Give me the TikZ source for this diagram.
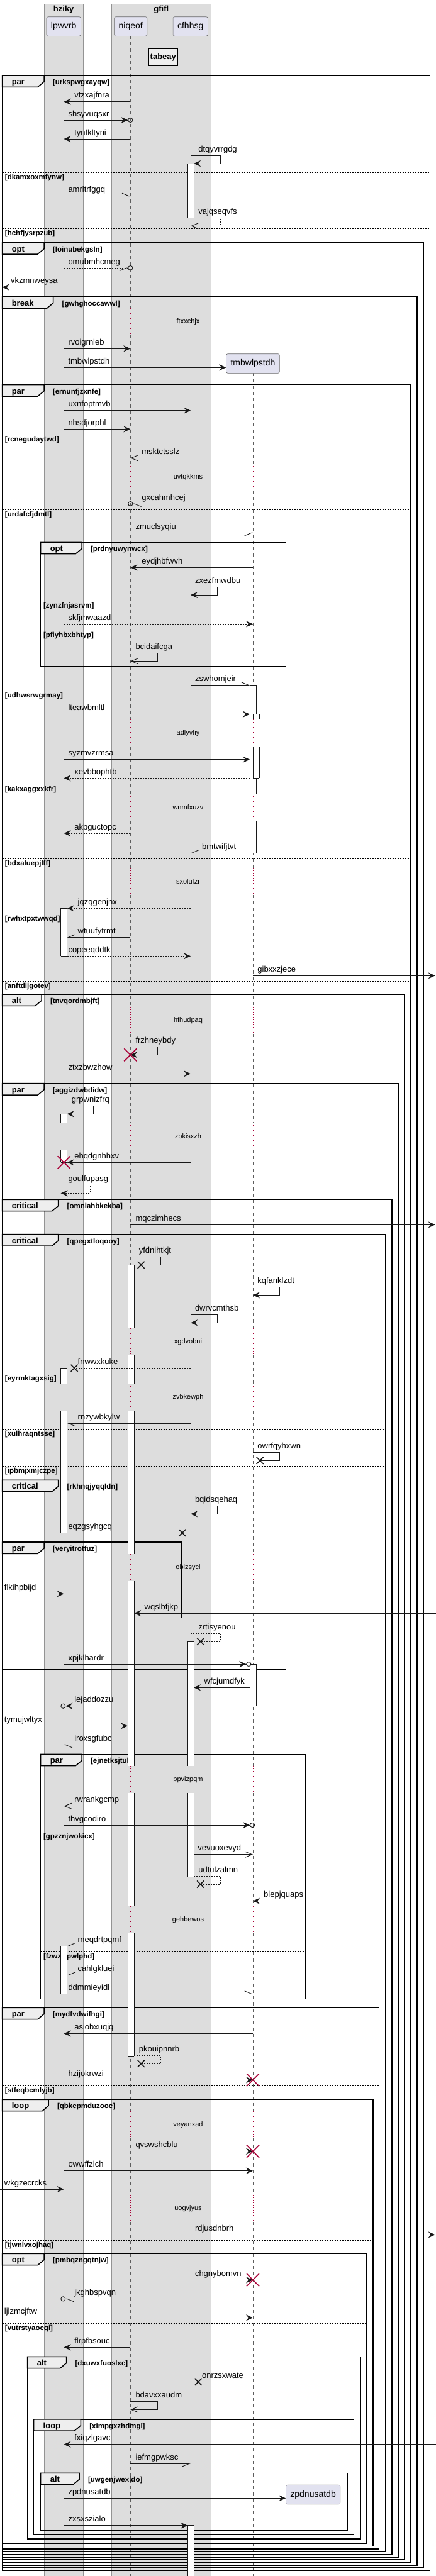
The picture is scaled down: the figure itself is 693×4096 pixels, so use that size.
\documentclass[tikz,border=0pt]{standalone}
\usepackage{fontspec}
\setmainfont{Liberation Sans}
\usetikzlibrary{arrows.meta}

\definecolor{PartFill}{HTML}{E2E2F0}
\definecolor{BoxFill}{HTML}{DDDDDD}
\definecolor{TabFill}{HTML}{EEEEEE}
\definecolor{DelayRed}{HTML}{A80036}
\definecolor{InkGray}{HTML}{181818}

% lifeline positions
\newcommand{\xL}{101.6} % lpwvrb
\newcommand{\xN}{207.3} % niqeof
\newcommand{\xC}{303.1} % cfhhsg
\newcommand{\xT}{402.0} % tmbwlpstdh
\newcommand{\xZ}{497.6} % zpdnusatdb

\tikzset{
  grayband/.style={fill=BoxFill, draw=gray!85, line width=0.6pt},
  bandtitle/.style={inner sep=0pt, font=\fontsize{13}{15}\selectfont\bfseries},
  partbox/.style={draw=InkGray!65, fill=PartFill, line width=0.6pt, rounded corners=2.5pt,
    minimum height=30.6pt, inner xsep=7pt, inner ysep=0pt, font=\fontsize{14}{16}\selectfont},
  lifeline/.style={draw=InkGray!70, line width=0.6pt, dash pattern=on 5pt off 5pt},
  delayline/.style={draw=DelayRed, line width=0.7pt, dash pattern=on 1pt off 3pt},
  delaylbl/.style={inner sep=0pt, font=\fontsize{11}{13}\selectfont},
  grpline/.style={draw=black, line width=1.5pt},
  elseline/.style={draw=black, line width=0.8pt, dash pattern=on 2pt off 2pt},
  kindlbl/.style={anchor=base west, inner sep=0pt, font=\fontsize{13}{15}\selectfont\bfseries},
  guardlbl/.style={anchor=base west, inner sep=0pt, font=\fontsize{11.5}{13}\selectfont\bfseries},
  barline/.style={draw=InkGray, line width=0.8pt},
  msgline/.style={draw=InkGray, line width=0.9pt},
  msglbl/.style={anchor=base west, inner sep=0pt, font=\fontsize{13}{15}\selectfont},
  rtn/.style={dash pattern=on 2pt off 2pt},
  sync/.style={-{Stealth[length=11pt,width=10pt,inset=4pt]}},
  syncdot/.style={-{Stealth[length=11pt,width=10pt,inset=4pt] Circle[open,length=8pt,width=8pt]}},
  opn/.style={-{Straight Barb[length=11pt,width=9pt]}},
  hl/.style={-{Straight Barb[left,length=11pt,width=9pt]}},
  hr/.style={-{Straight Barb[right,length=11pt,width=9pt]}},
  hldot/.style={-{Straight Barb[left,length=11pt,width=9pt] Circle[open,length=8pt,width=8pt]}},
  hrdot/.style={-{Straight Barb[right,length=11pt,width=9pt] Circle[open,length=8pt,width=8pt]}},
  lostmark/.style={draw=InkGray, line width=1.5pt},
  killmark/.style={draw=DelayRed, line width=1.6pt},
}

% message: [style]{name}{x from}{x to}{y}{label x}
\newcommand{\msg}[6][]{%
  \coordinate (#2-s) at (#3,#5);
  \coordinate (#2-e) at (#4,#5);
  \draw[msgline,#1] (#2-s) -- (#2-e);
  \node[msglbl] (#2) at (#6,#5-6) {#2};}
% self message: [style]{name}{x start}{x loop}{y1}{y2}{x end}{label x}
\newcommand{\selfmsg}[8][]{%
  \coordinate (#2-s) at (#3,#5);
  \coordinate (#2-c) at (#4,#6);
  \coordinate (#2-e) at (#7,#6);
  \draw[msgline,#1] (#2-s) -| (#2-c) -- (#2-e);
  \node[msglbl] (#2) at (#8,#5-6) {#2};}
\newcommand{\lostx}[1]{\draw[lostmark] #1 ++(-5.5,-5.5) -- ++(11,11) #1 ++(-5.5,5.5) -- ++(11,-11);}
\newcommand{\killx}[1]{\draw[killmark] #1 ++(-10,-10) -- ++(20,20) #1 ++(-10,10) -- ++(20,-20);}
% group frame: {name}{left}{top}{right}{bottom}{tab right}{kind}{guard}
\newcommand{\grp}[8]{%
  \draw[grpline] (#2,#3) rectangle (#4,#5);
  \draw[grpline, fill=TabFill] (#2,#3) -- (#6,#3) -- (#6,#3+10) -- (#6-10,#3+18.3) -- (#2,#3+18.3) -- cycle;
  \node[kindlbl] (#1-k) at (#2+15,#3+14.5) {#7};
  \node[guardlbl] (#1-g) at (#6+13.8,#3+14.5) {[#8]};}
% else divider: {name}{left}{right}{y}{guard}
\newcommand{\els}[5]{%
  \draw[elseline] (#2,#4) -- (#3,#4);
  \node[guardlbl] (#1) at (#2+4.2,#4+11.5) {[#5]};}
% activation bars
\newcommand{\barside}[3]{%
  \fill[white] (#1-5,#2) rectangle (#1+5,#3);
  \draw[barline] (#1-5,#2) -- (#1-5,#3) (#1+5,#2) -- (#1+5,#3);}
\newcommand{\barcap}[2]{\draw[barline] (#1-5,#2) -- (#1+5,#2);}
\newcommand{\barbox}[3]{\barside{#1}{#2}{#3}\barcap{#1}{#2}\barcap{#1}{#3}}
\newcommand{\dly}[2]{\node[delaylbl] (d-#1) at (299,#2) {#1};}

\begin{document}
\begin{tikzpicture}[x=1pt, y=-1pt]
\useasboundingbox[fill=white] (0,0) rectangle (693,4096);

% boxes
\draw[grayband] (70.0,6) rectangle (132.4,4100);
\draw[grayband] (176.9,6) rectangle (335.2,4100);
\node[bandtitle] (b-hziky) at (101.2,15) {hziky};
\node[bandtitle] (b-gfifl) at (256.3,15) {gfifl};

% lifelines with delays
\foreach \m [remember=\m as \pm (initially 35.8)] in {511.7,758.3,1165.7,1283.3,1401.7,1622.3,1806.7,2133.3,2221.7,2492.3,2829.3,3052.3,3378.3,3511.7} {
  \foreach \lx in {\xL,\xN,\xC} {
    \draw[lifeline] (\lx,\pm+21.5) -- (\lx,\m-21.5);
    \draw[delayline] (\lx,\m-21.5) -- (\lx,\m+21.5);
  }
}
\foreach \m [remember=\m as \pm (initially 571.8)] in {758.3,1165.7,1283.3,1401.7,1622.3,1806.7,2133.3,2221.7,2492.3,2829.3,3052.3,3378.3,3511.7} {
  \draw[lifeline] (\xT,\pm+21.5) -- (\xT,\m-21.5);
  \draw[delayline] (\xT,\m-21.5) -- (\xT,\m+21.5);
}
\foreach \lx in {\xL,\xN,\xC,\xT}
  \draw[lifeline] (\lx,3533.2) -- (\lx,4100);
\draw[lifeline] (\xZ,3982.3) -- (\xZ,4100);

\dly{ftxxchjx}{511.7}
\dly{uvtqkkms}{758.3}
\dly{adlyvfiy}{1165.7}
\dly{wnmfxuzv}{1283.3}
\dly{sxolufzr}{1401.7}
\dly{hfhudpaq}{1622.3}
\dly{zbkisxzh}{1806.7}
\dly{xgdvobni}{2133.3}
\dly{zvbkewph}{2221.7}
\dly{oblzsycl}{2492.3}
\dly{ppvizpqm}{2829.3}
\dly{gehbewos}{3052.3}
\dly{veyanxad}{3378.3}
\dly{uogvjyus}{3511.7}

% participants
\node[partbox] (p-lpwvrb) at (101.2,42) {lpwvrb};
\node[partbox] (p-niqeof) at (207.7,42) {niqeof};
\node[partbox] (p-cfhhsg) at (302.7,42) {cfhhsg};
\node[partbox] (p-tmbwlpstdh) at (\xT,578) {tmbwlpstdh};
\node[partbox] (p-zpdnusatdb) at (\xZ,3966.5) {zpdnusatdb};

% separator
\draw[line width=0.8pt] (0,90) -- (693,90) (0,92.7) -- (693,92.7);
\node[draw, line width=1.5pt, fill=TabFill, font=\fontsize{13}{15}\selectfont\bfseries,
  minimum width=46.7pt, minimum height=26.6pt, inner sep=0pt] (sep-tabeay) at (259.3,91) {tabeay};

% groups
\grp{urks}{3.6}{120}{683.3}{4087.3}{70}{par}{urkspwgxayqw}
\els{g-dkam}{3.6}{683.3}{274.3}{dkamxoxmfynw}
\els{g-hchf}{3.6}{683.3}{363.3}{hchfjysrpzub}
\grp{loin}{3.6}{385.7}{673}{4083}{70}{opt}{loinubekgsln}
\grp{gwhg}{3.6}{471.7}{663.2}{4078.7}{84.7}{break}{gwhghoccawwl}
\grp{ernu}{3.6}{611.7}{653}{4074.3}{70}{par}{ernunfjzxnfe}
\els{g-rcne}{3.6}{653}{691}{rcnegudaytwd}
\els{g-urda}{3.6}{653}{810}{urdafcfjdmtl}
\grp{prdn}{64.6}{862.3}{454.6}{1059.3}{130.1}{opt}{prdnyuwynwcx}
\els{g-zynz}{64.6}{454.6}{955.3}{zynzfnjasrvm}
\els{g-pfiy}{64.6}{454.6}{1001.7}{pfiyhbxbhtyp}
\els{g-udhw}{3.6}{653}{1098.3}{udhwsrwgrmay}
\els{g-kakx}{3.6}{653}{1246.7}{kakxaggxxkfr}
\els{g-bdxa}{3.6}{653}{1365}{bdxaluepjlff}
\els{g-rwhx}{3.6}{653}{1453.3}{rwhxtpxtwwqd}
\els{g-anft}{3.6}{653}{1560.3}{anftdijgotev}
\grp{tnvq}{3.6}{1581}{643.1}{4070}{66}{alt}{tnvqordmbjft}
\grp{aggi}{3.6}{1722.7}{632.9}{4065.7}{70}{par}{aggizdwbdidw}
\grp{omni}{3.6}{1907.3}{623.1}{4061.3}{92.7}{critical}{omniahbkekba}
\grp{qpeg}{3.6}{1962.7}{612.8}{4057}{92.7}{critical}{qpegxtloqooy}
\els{g-eyrm}{3.6}{612.8}{2184.3}{eyrmktagxsig}
\els{g-xulh}{3.6}{612.8}{2272.3}{xulhraqntsse}
\els{g-ipbm}{3.6}{612.8}{2331.3}{ipbmjxmjczpe}
\grp{rkhn}{3.6}{2353.3}{454.6}{2654.3}{92.7}{critical}{rkhnqjyqqldn}
\grp{very}{3.6}{2452}{288.8}{2572.7}{70}{par}{veryitrotfuz}
\grp{ejne}{64.6}{2789.3}{485.8}{3178.3}{130.1}{par}{ejnetksjtula}
\els{g-gpzz}{64.6}{485.8}{2911.7}{gpzznjwokicx}
\els{g-fzwz}{64.6}{485.8}{3103.3}{fzwzrrpwlphd}
\grp{mydf}{3.6}{3192.3}{602.6}{4052.7}{70}{par}{mydfvdwifhgi}
\els{g-stfe}{3.6}{602.6}{3316.3}{stfeqbcmlyjb}
\grp{qbkc}{3.6}{3338.3}{592.8}{4048.3}{77.1}{loop}{qbkcpmduzooc}
\els{g-tjwn}{3.6}{592.8}{3562.3}{tjwnivxojhaq}
\grp{pmbq}{3.6}{3583.3}{582.5}{4044}{70}{opt}{pmbqzngqtnjw}
\els{g-vutr}{3.6}{582.5}{3694.3}{vutrstyaocqi}
\grp{dxuw}{43.7}{3747.3}{572.7}{4036.7}{105.6}{alt}{dxuwxfuoslxc}
\grp{ximp}{53.5}{3846.7}{562.5}{4030}{128.4}{loop}{ximpgxzhdmgl}
\grp{uwge}{64.6}{3932.3}{552.7}{4023.3}{126.1}{alt}{uwgenjwexldo}

% activations
\barbox{\xC}{260}{346.7}
\barside{\xT}{1089.3}{1144.2}\barcap{\xT}{1089.3}
\barside{\xT}{1187.2}{1261.8}
\barside{\xT}{1304.8}{1356}\barcap{\xT}{1356}
\barside{407}{1135.7}{1144.2}\barcap{407}{1135.7}
\barside{407}{1187.2}{1237.3}\barcap{407}{1237.3}
\barbox{\xL}{1444.3}{1520}
\barside{\xL}{1771.3}{1785.2}\barcap{\xL}{1771.3}
\barside{\xL}{1828.2}{1848.3}\barcap{\xL}{1848.3}
\barside{208.1}{2011.7}{2111.8}\barcap{208.1}{2011.7}
\barside{208.1}{2154.8}{2200.2}
\barside{208.1}{2243.2}{2470.8}
\barside{208.1}{2513.8}{2807.8}
\barside{208.1}{2850.8}{3030.8}
\barside{208.1}{3073.8}{3269.3}\barcap{208.1}{3269.3}
\barside{\xL}{2175.3}{2200.2}\barcap{\xL}{2175.3}
\barside{\xL}{2243.2}{2437.3}\barcap{\xL}{2437.3}
\barside{\xC}{2610}{2807.8}\barcap{\xC}{2610}
\barside{\xC}{2850.8}{2984.3}\barcap{\xC}{2984.3}
\barbox{\xT}{2646}{2712.7}
\barbox{\xL}{3094}{3170.3}
\barside{\xC}{4015.7}{4100}\barcap{\xC}{4015.7}

% messages
\msg[sync]{vtzxajfnra}{\xN}{\xL}{161.7}{118.1}
\msg[syncdot]{shsyvuqsxr}{\xL}{\xN+4}{191}{108.3}
\msg[sync]{tynfkltyni}{\xN}{\xL}{221}{118.1}
\selfmsg[sync]{dtqyvrrgdg}{\xC}{350.3}{247.7}{260}{308.1}{315.1}
\msg[hl]{amrltrfggq}{\xL}{\xN}{311.7}{108.3}
\selfmsg[rtn,opn]{vajqseqvfs}{308.1}{350.3}{346}{359.3}{\xC}{315.1}
\msg[rtn,hrdot]{omubmhcmeg}{\xL}{\xN+4}{426}{108.3}
\msg[sync]{vkzmnweysa}{\xN}{3.6}{456.7}{16.9}
\msg[sync]{rvoigrnleb}{\xL}{\xN}{554.3}{108.3}
\coordinate (tmbwlpstdh-s) at (\xL,584.3);
\draw[msgline,sync] (tmbwlpstdh-s) -- ([yshift=-6.3pt]p-tmbwlpstdh.west);
\node[msglbl] (tmbwlpstdh) at (108.3,578.3) {tmbwlpstdh};
\msg[sync]{uxnfoptmvb}{\xL}{\xC}{652.7}{108.3}
\msg[sync]{nhsdjorphl}{\xL}{\xN}{682.3}{108.3}
\msg[opn]{msktctsslz}{\xC}{\xN}{728.3}{225.1}
\msg[rtn,hldot]{gxcahmhcej}{\xC}{\xN-4}{801}{225.1}
\msg[hr]{zmuclsyqiu}{\xN}{\xT}{847.3}{215.3}
\msg[sync]{eydjhbfwvh}{\xT}{\xN}{902.3}{225.1}
\selfmsg[sync]{zxezfmwdbu}{\xC}{345.4}{933.3}{946}{\xC}{309.8}
\msg[rtn,sync]{skfjmwaazd}{\xL}{\xT}{992.3}{108.3}
\selfmsg[opn]{bcidaifcga}{\xN}{250.5}{1038.7}{1051.3}{\xN}{215.3}
\msg[hl]{zswhomjeir}{\xC}{397}{1089.3}{309.8}
\msg[sync]{lteawbmltl}{\xL}{397}{1135.7}{108.3}
\msg[sync]{syzmvzrmsa}{\xL}{397}{1207.7}{108.3}
\msg[rtn,sync]{xevbbophtb}{397}{\xL}{1237.3}{118.1}
\msg[rtn,sync]{akbguctopc}{\xN}{\xL}{1325}{118.1}
\msg[rtn,hr]{bmtwifjtvt}{397}{\xC}{1356}{320.9}
\msg[rtn,sync]{jqzqgenjnx}{\xC}{106.6}{1444.3}{123.5}
\msg[hr]{wtuufytrmt}{\xN}{106.6}{1490.3}{123.5}
\msg[rtn,sync]{copeeqddtk}{106.6}{\xC}{1520.3}{108.3}
\msg[sync]{gibxxzjece}{\xT}{691.7}{1551.3}{409.2}
\selfmsg[sync]{frzhneybdy}{\xN}{250.5}{1664.3}{1677.3}{\xN}{215.3}
\killx{(frzhneybdy-e)}
\msg[sync]{ztxzbwzhow}{\xL}{\xC}{1707.3}{108.3}
\selfmsg[sync]{grpwnizfrq}{\xL}{148.9}{1758.7}{1771.3}{106.6}{113.7}
\msg[sync]{ehqdgnhhxv}{\xC}{106.6}{1848.3}{118.1}
\coordinate (ehqdgnhhxv-x) at (\xL,1848.3);
\killx{(ehqdgnhhxv-x)}
\selfmsg[rtn,sync]{goulfupasg}{\xL}{143.5}{1884.3}{1897.3}{96.6}{108.3}
\msg[sync]{mqczimhecs}{\xN}{691.7}{1947.3}{215.3}
\selfmsg{yfdnihtkjt}{\xN}{255.8}{1998.7}{2011.3}{224.2}{220.6}
\lostx{(yfdnihtkjt-e)}
\selfmsg[sync]{kqfanklzdt}{\xT}{444.4}{2046}{2059.3}{\xT}{409.2}
\selfmsg[sync]{dwrvcmthsb}{\xC}{345.4}{2090.7}{2103.3}{\xC}{309.8}
\msg[rtn]{fnwwxkuke}{\xC}{118.1}{2175.3}{123.5}
\lostx{(fnwwxkuke-e)}
\msg[hl]{rnzywbkylw}{\xC}{106.6}{2263.3}{123.5}
\selfmsg{owrfqyhxwn}{\xT}{444.4}{2309.3}{2322.3}{413.2}{409.2}
\lostx{(owrfqyhxwn-e)}
\selfmsg[sync]{bqidsqehaq}{\xC}{345.4}{2394.3}{2407.3}{\xC}{309.8}
\msg[rtn]{eqzgsyhgcq}{106.6}{289.7}{2437.3}{108.3}
\lostx{(eqzgsyhgcq-e)}
\msg[sync]{flkihpbijd}{0}{\xL}{2534.3}{6.7}
\msg[sync]{wqslbfjkp}{693}{213.1}{2565}{229.5}
\selfmsg[rtn]{zrtisyenou}{\xC}{350.3}{2597.3}{2610}{318.7}{315.1}
\lostx{(zrtisyenou-e)}
\msg[syncdot]{xpjklhardr}{\xL}{399.3}{2646}{108.3}
\msg[sync]{wfcjumdfyk}{397}{308.1}{2683.3}{324.5}
\msg[rtn,syncdot]{lejaddozzu}{397}{96.3}{2712.7}{118.1}
\msg[sync]{tymujwltyx}{0}{203.1}{2744.3}{6.7}
\msg[hl]{iroxsgfubc}{298.1}{\xL}{2774.3}{118.1}
\msg[opn]{rwrankgcmp}{\xT}{\xL}{2871.7}{118.1}
\msg[syncdot]{thvgcodiro}{\xL}{405.1}{2902}{108.3}
\msg[opn]{vevuoxevyd}{308.1}{\xT}{2948.7}{314.2}
\selfmsg[rtn]{udtulzalmn}{308.1}{350.3}{2983.3}{2996}{318.7}{315.1}
\lostx{(udtulzalmn-e)}
\msg[sync]{blepjquaps}{693}{\xT}{3022.7}{419}
\msg[hr]{meqdrtpqmf}{\xT}{106.6}{3094}{123.5}
\msg[hr]{cahlgkluei}{\xT}{106.6}{3140.3}{123.5}
\msg[rtn,hl]{ddmmieyidl}{106.6}{\xT}{3170.3}{108.3}
\msg[sync]{asiobxuqjq}{\xT}{\xL}{3233.3}{118.1}
\selfmsg[rtn]{pkouipnnrb}{213.1}{255.8}{3268.7}{3281.3}{224.2}{220.6}
\lostx{(pkouipnnrb-e)}
\msg[sync]{hzijokrwzi}{\xL}{\xT}{3307.3}{108.3}
\killx{(hzijokrwzi-e)}
\msg[sync]{qvswshcblu}{\xN}{\xT}{3420.7}{215.3}
\killx{(qvswshcblu-e)}
\msg[sync]{owwffzlch}{\xL}{\xT}{3451.7}{108.3}
\msg[sync]{wkgzecrcks}{0}{\xL}{3481}{6.7}
\msg[sync]{rdjusdnbrh}{\xC}{691.7}{3553.3}{309.8}
\msg[sync]{chgnybomvn}{\xC}{\xT}{3625.3}{309.8}
\killx{(chgnybomvn-e)}
\msg[rtn,hldot]{jkghbspvqn}{\xN}{96.3}{3655.3}{118.1}
\msg[sync]{ljlzmcjftw}{0}{\xT}{3685.3}{6.7}
\msg[sync]{flrpfbsouc}{\xN}{\xL}{3732.3}{118.1}
\msg{onrzsxwate}{\xT}{315.1}{3787.3}{320.9}
\lostx{(onrzsxwate-e)}
\selfmsg[opn]{bdavxxaudm}{\xN}{250.5}{3818.7}{3831.3}{\xN}{215.3}
\msg[sync]{fxiqzlgavc}{693}{\xL}{3886.7}{118.1}
\msg[hr]{iefmgpwksc}{\xN}{\xC}{3917.3}{215.3}
\coordinate (zpdnusatdb-s) at (\xL,3972.3);
\draw[msgline,sync] (zpdnusatdb-s) -- ([yshift=-5.8pt]p-zpdnusatdb.west);
\node[msglbl] (zpdnusatdb) at (108.3,3966.3) {zpdnusatdb};
\msg[sync]{zxsxszialo}{\xL}{298.1}{4015.7}{108.3}
\end{tikzpicture}
\end{document}
